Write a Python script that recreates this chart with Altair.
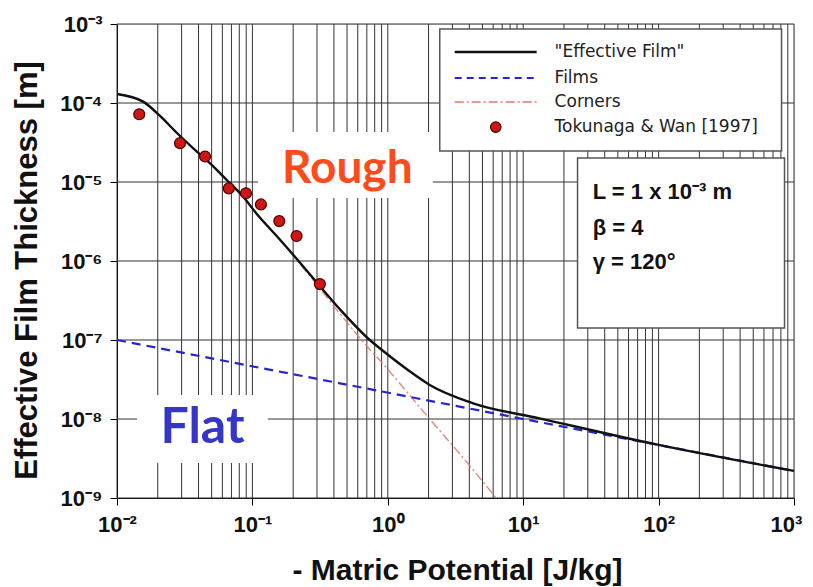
import altair as alt
import pandas as pd

# ---------------- data ----------------
eff_x = [0.01, 0.0156, 0.0207, 0.0276, 0.0366, 0.0485, 0.0646, 0.0855, 0.107, 0.15,
         0.2, 0.3, 0.443, 0.736, 0.92, 1.4, 2.04, 4.27, 13.2, 100, 1000]
eff_y = [1.3e-4, 1.04e-4, 6.9e-5, 4.2e-5, 2.67e-5, 1.73e-5, 1.06e-5, 6.5e-6, 4.0e-6, 2.1e-6,
         1.2e-6, 5.3e-7, 2.45e-7, 1.0e-7, 7.3e-8, 4.2e-8, 2.7e-8, 1.58e-8, 1.02e-8, 4.7e-9, 2.2e-9]

films_x = [0.01, 0.443, 10, 1000]
films_y = [1.0e-7, 2.83e-8, 1.0e-8, 2.2e-9]

corners_x = [0.01, 0.0156, 0.0207, 0.0276, 0.0366, 0.0485, 0.0646, 0.0855, 0.107, 0.15,
             0.2, 0.3, 0.443, 0.736, 0.92, 1.4, 2.04, 4.0, 6.3]
corners_y = [1.3e-4, 1.04e-4, 6.9e-5, 4.2e-5, 2.67e-5, 1.73e-5, 1.06e-5, 6.5e-6, 4.0e-6, 2.1e-6,
             1.17e-6, 5.0e-7, 2.15e-7, 7.6e-8, 5.0e-8, 2.15e-8, 1.0e-8, 2.6e-9, 1.0e-9]

obs_x = [0.0146, 0.0292, 0.0447, 0.067, 0.0896, 0.1156, 0.158, 0.212, 0.315]
obs_y = [7.2e-5, 3.1e-5, 2.1e-5, 8.3e-6, 7.2e-6, 5.2e-6, 3.2e-6, 2.07e-6, 5.1e-7]

x_ticks = [1e-2, 1e-1, 1e0, 1e1, 1e2, 1e3]
x_tick_labels = ["10⁻²", "10⁻¹", "10⁰", "10¹", "10²", "10³"]
y_ticks = [1e-9, 1e-8, 1e-7, 1e-6, 1e-5, 1e-4, 1e-3]
y_tick_labels = ["10⁻⁹", "10⁻⁸", "10⁻⁷", "10⁻⁶", "10⁻⁵", "10⁻⁴", "10⁻³"]
x_grid = [m * 10.0 ** k for k in range(-2, 3) for m in range(1, 10)] + [1000.0]

legend_labels = ['"Effective Film"', "Films", "Corners", "Tokunaga & Wan [1997]"]
param_lines = ["L = 1 x 10⁻³ m", "β = 4", "γ = 120°"]

# ---------------- scales / axes ----------------
FONT = "Liberation Sans"
xs = alt.Scale(type="log", domain=[1e-2, 1e3], nice=False)
ys = alt.Scale(type="log", domain=[1e-9, 1e-3], nice=False)

x_expr = "[" + ",".join("'%s'" % s for s in x_tick_labels) + "][round(log(datum.value)/LN10)+2]"
y_expr = "[" + ",".join("'%s'" % s for s in y_tick_labels) + "][round(log(datum.value)/LN10)+9]"

xaxis = alt.Axis(values=x_ticks, labelExpr=x_expr, grid=False, tickSize=7, tickColor="#000",
                 domainColor="#000", labelFont=FONT, labelFontWeight="bold", labelFontSize=22,
                 labelColor="#111", labelPadding=9, labelFlush=False,
                 labelOffset={"condition": {"test": "datum.value > 500", "value": -8}, "value": 0},
                 title="- Matric Potential [J/kg]", titleFont=FONT, titleFontSize=30,
                 titleFontWeight="bold", titleColor="#111",
                 titleX=340, titleY=72, titleBaseline="middle", titleAlign="center")
yaxis = alt.Axis(values=y_ticks, labelExpr=y_expr, grid=False, tickSize=7, tickColor="#000",
                 domainColor="#000", labelFont=FONT, labelFontWeight="bold", labelFontSize=22,
                 labelColor="#111", labelPadding=8, labelFlush=False,
                 title="Effective Film Thickness [m]", titleFont=FONT, titleFontSize=31,
                 titleFontWeight="bold", titleColor="#111",
                 titleX=-90, titleY=246, titleBaseline="middle", titleAlign="center", titleAngle=270)


def X(f):
    return alt.X(f, type="quantitative", scale=xs, axis=xaxis)


def Y(f):
    return alt.Y(f, type="quantitative", scale=ys, axis=yaxis)


GRID = "#333333"
LEGFONT = "DejaVu Sans"

# grid
xgrid = alt.Chart(pd.DataFrame({"x": x_grid})).mark_rule(color=GRID, strokeWidth=1).encode(x=X("x"))
ygrid = alt.Chart(pd.DataFrame({"y": y_ticks})).mark_rule(color=GRID, strokeWidth=1).encode(y=Y("y"))

# white boxes behind the Rough / Flat words
boxes = alt.Chart(pd.DataFrame({
    "x0": [0.11, 0.01405], "x1": [2.15, 0.130],
    "y0": [4.3e-5, 2.01e-8], "y1": [6.27e-6, 2.77e-9],
})).mark_rect(fill="white").encode(x=X("x0"), x2="x1", y=Y("y0"), y2="y1")

# curves
corners = alt.Chart(pd.DataFrame({"x": corners_x, "y": corners_y})).mark_line(
    color="#e07a6a", strokeWidth=1.5, strokeDash=[9, 3, 2, 3], opacity=0.85, interpolate="monotone"
).encode(x=X("x"), y=Y("y"))
films = alt.Chart(pd.DataFrame({"x": films_x, "y": films_y})).mark_line(
    color="#2626d0", strokeWidth=2.2, strokeDash=[9, 6]
).encode(x=X("x"), y=Y("y"))
eff = alt.Chart(pd.DataFrame({"x": eff_x, "y": eff_y})).mark_line(
    color="#111111", strokeWidth=2.4, interpolate="monotone"
).encode(x=X("x"), y=Y("y"))
obs = alt.Chart(pd.DataFrame({"x": obs_x, "y": obs_y})).mark_point(
    filled=True, fill="#d01515", stroke="#4a0000", strokeWidth=1.2, size=120, opacity=1
).encode(x=X("x"), y=Y("y"))

# legend box (data coordinates)
leg_box = alt.Chart(pd.DataFrame({"x0": [2.42], "x1": [809], "y0": [8.65e-4], "y1": [2.47e-5]})).mark_rect(
    fill="white", stroke="#555", strokeWidth=1.5).encode(x=X("x0"), x2="x1", y=Y("y0"), y2="y1")
leg_rows_y = [4.43e-4, 2.07e-4, 1.03e-4, 4.96e-5]
leg_l1 = alt.Chart(pd.DataFrame({"x0": [3.12], "x1": [12.58], "y": [leg_rows_y[0]]})).mark_rule(
    color="#111", strokeWidth=2.4).encode(x=X("x0"), x2="x1", y=Y("y"))
leg_l2 = alt.Chart(pd.DataFrame({"x0": [3.12], "x1": [12.58], "y": [leg_rows_y[1]]})).mark_rule(
    color="#2626d0", strokeWidth=2, strokeDash=[7, 5]).encode(x=X("x0"), x2="x1", y=Y("y"))
leg_l3 = alt.Chart(pd.DataFrame({"x0": [3.12], "x1": [12.58], "y": [leg_rows_y[2]]})).mark_rule(
    color="#e07a6a", strokeWidth=1.5, strokeDash=[9, 3, 2, 3]).encode(x=X("x0"), x2="x1", y=Y("y"))
leg_pt = alt.Chart(pd.DataFrame({"x": [6.27], "y": [leg_rows_y[3]]})).mark_point(
    filled=True, fill="#d01515", stroke="#4a0000", strokeWidth=1.2, size=110, opacity=1
).encode(x=X("x"), y=Y("y"))
leg_txt = alt.Chart(pd.DataFrame({"x": [17.06] * 4, "y": leg_rows_y, "t": legend_labels})).mark_text(
    align="left", baseline="middle", font=LEGFONT, fontSize=17, color="#222"
).encode(x=X("x"), y=Y("y"), text="t:N")

# parameter box
par_box = alt.Chart(pd.DataFrame({"x0": [25.2], "x1": [851], "y0": [2.01e-5], "y1": [1.42e-7]})).mark_rect(
    fill="white", stroke="#555", strokeWidth=1.5).encode(x=X("x0"), x2="x1", y=Y("y0"), y2="y1")
par_txt = alt.Chart(pd.DataFrame({"x": [32.6] * 3, "y": [7.46e-6, 2.62e-6, 9.7e-7], "t": param_lines})).mark_text(
    align="left", baseline="middle", font=FONT, fontSize=22, fontWeight="bold", color="#111"
).encode(x=X("x"), y=Y("y"), text="t:N")

# big words
rough = alt.Chart(pd.DataFrame({"x": [0.502], "y": [9.7e-6], "t": ["Rough"]})).mark_text(
    align="center", baseline="alphabetic", font="Lato", fontSize=46, fontWeight="bold", color="#ff4a1a"
).encode(x=X("x"), y=Y("y"), text="t:N")
flat = alt.Chart(pd.DataFrame({"x": [0.0428], "y": [4.97e-9], "t": ["Flat"]})).mark_text(
    align="center", baseline="alphabetic", font="Lato", fontSize=50, fontWeight="bold", color="#3535c8"
).encode(x=X("x"), y=Y("y"), text="t:N")

chart = alt.layer(
    xgrid, ygrid, boxes, corners, films, eff, obs,
    leg_box, leg_l1, leg_l2, leg_l3, leg_pt, leg_txt,
    par_box, par_txt, rough, flat
).properties(
    width=677, height=474,
    padding={"left": 109, "top": 16, "right": 11, "bottom": 88},
    autosize=alt.AutoSizeParams(type="none"),
).configure_view(stroke="#333", strokeWidth=1).configure(background="white")

chart.save("out.html", embed_options={"renderer": "svg", "actions": False})
